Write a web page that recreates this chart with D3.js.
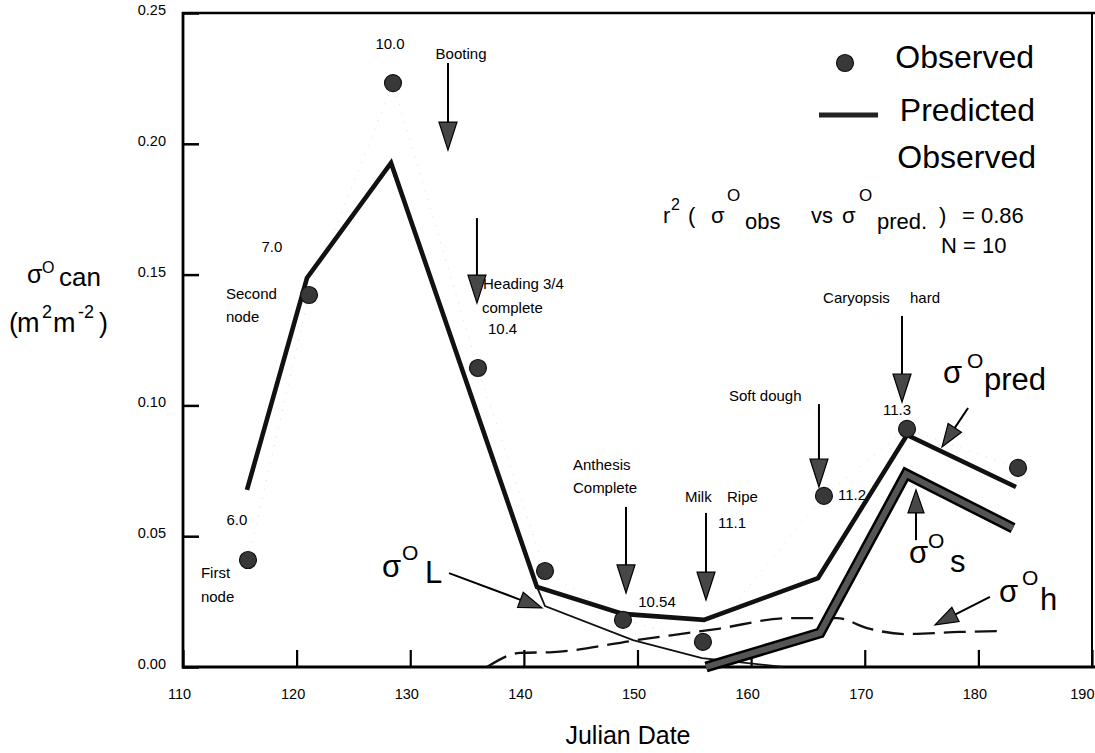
<!DOCTYPE html>
<html>
<head>
<meta charset="utf-8">
<script src="https://cdn.jsdelivr.net/npm/d3@7"></script>
<style>
  html, body { margin: 0; padding: 0; background: #fff; }
  svg { display: block; }
</style>
</head>
<body>
<svg id="chart" width="1095" height="753"></svg>
<script>
// ---- Observed canopy backscatter (Julian date, sigma0 can) ----
const obsDate  = [115.72, 121.09, 128.48, 135.96, 141.86, 148.72, 155.76, 166.41, 173.72, 183.49];
const obsSigma = [0.0409, 0.1422, 0.2232, 0.1143, 0.0367, 0.0180, 0.0096, 0.0654, 0.0910, 0.0761];

// ---- Predicted total canopy backscatter ----
const predDate  = [115.63, 120.91, 128.31, 141.15, 148.72, 155.85, 165.89, 173.72, 183.31];
const predSigma = [0.0677, 0.1487, 0.1927, 0.0306, 0.0203, 0.0180, 0.0340, 0.0887, 0.0688];

// ---- Leaf contribution (sigma0 L) ----
const leafDate  = [141.15, 141.86, 149.60, 155.68, 162.81];
const leafSigma = [0.0306, 0.0233, 0.0103, 0.0034, 0.0];

// ---- Stem contribution (sigma0 s) ----
const stemDate  = [156.03, 166.06, 173.63, 183.05];
const stemSigma = [0.0, 0.0130, 0.0738, 0.0531];

// ---- Head contribution (sigma0 h) ----
const headDate  = [136.75, 139.66, 142.56, 149.96, 156.91, 163.42, 167.56, 170.20, 173.54, 178.38, 182.34];
const headSigma = [0.0, 0.0054, 0.0057, 0.0103, 0.0145, 0.0187, 0.0187, 0.0149, 0.0126, 0.0134, 0.0138];

// ---- Axis ticks ----
const xTicks = [110, 120, 130, 140, 150, 160, 170, 180, 190];
const yTicks = [0.00, 0.05, 0.10, 0.15, 0.20, 0.25];

// ---- Growth-stage arrows: date, value at tail, value at tip ----
const stageArrows = [
  [133.32, 0.2309, 0.1976],   // Booting
  [135.87, 0.1716, 0.1391],   // Heading 3/4 complete
  [148.99, 0.0612, 0.0283],   // Anthesis complete
  [156.03, 0.0589, 0.0256],   // Milk ripe
  [165.97, 0.1005, 0.0688],   // Soft dough
  [173.28, 0.1342, 0.1013]    // Caryopsis hard
];

// ---- Arrows pointing at the component curves: tail (date, value) -> tip ----
const curveArrows = [
  [133.41, 0.0359, 141.59, 0.0226],   // sigma0 L
  [179.09, 0.0990, 176.80, 0.0841],   // sigma0 pred
  [174.51, 0.0485, 174.51, 0.0677],   // sigma0 s
  [181.02, 0.0268, 176.18, 0.0161]    // sigma0 h
];

// ---- Growth-stage text (Zadoks stage numbers and names) ----
const stageLabels = [
  ['10.0', 128.22, 0.2362, 'middle'],
  ['Booting', 134.47, 0.2324, 'middle'],
  ['7.0', 117.83, 0.1586, 'middle'],
  ['Second', 113.78, 0.1407, 'start'],
  ['node', 113.78, 0.1319, 'start'],
  ['Heading 3/4', 136.40, 0.1445, 'start'],
  ['complete', 136.31, 0.1353, 'start'],
  ['10.4', 136.84, 0.1273, 'start'],
  ['6.0', 114.75, 0.0543, 'middle'],
  ['First', 111.58, 0.0340, 'start'],
  ['node', 111.58, 0.0248, 'start'],
  ['Anthesis', 144.32, 0.0753, 'start'],
  ['Complete', 144.32, 0.0665, 'start'],
  ['10.54', 151.72, 0.0229, 'middle'],
  ['Milk', 154.18, 0.0631, 'start'],
  ['Ripe', 157.88, 0.0631, 'start'],
  ['11.1', 157.08, 0.0531, 'start'],
  ['Soft dough', 158.05, 0.1017, 'start'],
  ['11.2', 167.65, 0.0638, 'start'],
  ['Caryopsis', 166.33, 0.1391, 'start'],
  ['hard', 173.98, 0.1391, 'start'],
  ['11.3', 172.84, 0.0963, 'middle']
];

const FONT = '"Liberation Sans", Arial, Helvetica, sans-serif';
const W = 1095, H = 753;

const x = d3.scaleLinear().domain([110, 190]).range([183, 1092]);
const y = d3.scaleLinear().domain([0, 0.25]).range([667, 13]);

const svg = d3.select('#chart').attr('font-family', FONT);
svg.append('rect').attr('width', W).attr('height', H).attr('fill', '#fff');

const zip = (a, b) => a.map((v, i) => [v, b[i]]);
const line = d3.line().x(d => x(d[0])).y(d => y(d[1]));
const smooth = d3.line().x(d => x(d[0])).y(d => y(d[1])).curve(d3.curveMonotoneX);

// ---- Axes ----
const gy = svg.append('g')
  .attr('transform', `translate(${x(110)},0)`)
  .call(d3.axisLeft(y).tickValues(yTicks).tickFormat(d3.format('.2f')).tickSize(-16).tickPadding(17));
gy.attr('font-family', FONT).attr('font-size', 14.5);
gy.select('.domain').remove();
gy.selectAll('.tick line').attr('stroke', '#000').attr('stroke-width', 2.5);
gy.selectAll('.tick text').attr('fill', '#000').attr('dy', '0.1em');

const gx = svg.append('g')
  .attr('transform', `translate(0,${y(0)})`)
  .call(d3.axisBottom(x).tickValues(xTicks).tickFormat(d3.format('d')).tickSize(-17).tickPadding(22));
gx.attr('font-family', FONT).attr('font-size', 14.5);
gx.select('.domain').remove();
gx.selectAll('.tick line').attr('stroke', '#000').attr('stroke-width', 2.2);
gx.selectAll('.tick text').attr('fill', '#000').attr('dx', -4);
// keep the last label inside the page
gx.selectAll('.tick text').filter(d => d === 190).attr('text-anchor', 'end').attr('dx', 2);

// Frame
const frame = svg.append('g').attr('stroke', '#000').attr('fill', 'none');
frame.append('line').attr('x1', x(110)).attr('x2', x(110)).attr('y1', y(0.25) - 1).attr('y2', y(0) + 1.5).attr('stroke-width', 2.8);
frame.append('line').attr('x1', x(110) - 1).attr('x2', W).attr('y1', y(0)).attr('y2', y(0)).attr('stroke-width', 3);
frame.append('line').attr('x1', x(110) - 1).attr('x2', W).attr('y1', y(0.25)).attr('y2', y(0.25)).attr('stroke-width', 2.5);
frame.append('line').attr('x1', x(190)).attr('x2', x(190)).attr('y1', y(0.25)).attr('y2', y(0)).attr('stroke-width', 2);

// ---- Series ----
const plot = svg.append('g').attr('fill', 'none');

// faint dotted trace through the observations
plot.append('path').attr('d', line(zip(obsDate, obsSigma)))
  .attr('stroke', '#dcdcdc').attr('stroke-width', 1).attr('stroke-dasharray', '1 8');

// head component (dashed)
plot.append('path').attr('d', smooth(zip(headDate, headSigma)))
  .attr('stroke', '#111').attr('stroke-width', 2.3).attr('stroke-dasharray', '22 9');

// leaf component (thin)
plot.append('path').attr('d', line(zip(leafDate, leafSigma)))
  .attr('stroke', '#111').attr('stroke-width', 1.8).attr('stroke-linejoin', 'miter');

// stem component (broad band)
const stemPath = line(zip(stemDate, stemSigma));
plot.append('path').attr('d', stemPath)
  .attr('stroke', '#000').attr('stroke-width', 11).attr('stroke-linejoin', 'miter');
plot.append('path').attr('d', stemPath)
  .attr('stroke', '#555').attr('stroke-width', 6).attr('stroke-linejoin', 'miter');

// predicted total
plot.append('path').attr('d', line(zip(predDate, predSigma)))
  .attr('stroke', '#111').attr('stroke-width', 4.6).attr('stroke-linejoin', 'miter');

// ---- Arrows ----
const arrows = svg.append('g');
function drawArrow(x1, y1, x2, y2, head, width) {
  const dx = x2 - x1, dy = y2 - y1, L = Math.hypot(dx, dy);
  const ux = dx / L, uy = dy / L;
  const bx = x2 - ux * head, by = y2 - uy * head, hw = width / 2;
  arrows.append('line').attr('x1', x1).attr('y1', y1).attr('x2', bx).attr('y2', by)
    .attr('stroke', '#000').attr('stroke-width', 2);
  arrows.append('path')
    .attr('d', `M${x2},${y2}L${bx - uy * hw},${by + ux * hw}L${bx + uy * hw},${by - ux * hw}Z`)
    .attr('fill', '#474747').attr('stroke', '#000').attr('stroke-width', 1.2).attr('stroke-linejoin', 'miter');
}
stageArrows.forEach(([d, v0, v1]) => drawArrow(x(d), y(v0), x(d), y(v1), 28, 18));
curveArrows.forEach(([d0, v0, d1, v1]) => drawArrow(x(d0), y(v0), x(d1), y(v1), 23, 16));

// ---- Observed points ----
svg.append('g').selectAll('circle')
  .data(zip(obsDate, obsSigma))
  .join('circle')
  .attr('cx', d => x(d[0])).attr('cy', d => y(d[1])).attr('r', 8.5)
  .attr('fill', '#383838').attr('stroke', '#111').attr('stroke-width', 1.2);

// ---- Stage labels ----
svg.append('g').attr('font-size', 15).attr('fill', '#000')
  .selectAll('text').data(stageLabels).join('text')
  .attr('x', d => x(d[1])).attr('y', d => y(d[2]))
  .attr('text-anchor', d => d[3])
  .text(d => d[0]);

// ---- Component labels: sigma, superscript O, subscript ----
function sigmaLabel(px, py, sub, oDx, oDy, sDx, sDy) {
  const g = svg.append('g').attr('fill', '#000');
  g.append('text').attr('x', px).attr('y', py).attr('font-size', 31).text('σ');
  g.append('text').attr('x', px + oDx).attr('y', py + oDy).attr('font-size', 21).text('O');
  g.append('text').attr('x', px + sDx).attr('y', py + sDy).attr('font-size', 31).text(sub);
}
sigmaLabel(382, 577, 'L', 20, -17, 43, 6);
sigmaLabel(943, 383, 'pred', 24, -15, 41, 7);
sigmaLabel(909, 563, 's', 19, -15, 41, 9);
sigmaLabel(999, 602, 'h', 23, -17, 41, 8);

// ---- Legend ----
const leg = svg.append('g').attr('fill', '#000').attr('font-size', 32);
leg.append('circle').attr('cx', 845).attr('cy', 63).attr('r', 8.5)
  .attr('fill', '#383838').attr('stroke', '#111').attr('stroke-width', 1.2);
leg.append('text').attr('x', 1034).attr('y', 68).attr('text-anchor', 'end').text('Observed');
leg.append('line').attr('x1', 819).attr('x2', 878).attr('y1', 115).attr('y2', 115)
  .attr('stroke', '#222').attr('stroke-width', 5);
leg.append('text').attr('x', 1035).attr('y', 121).attr('text-anchor', 'end').text('Predicted');
leg.append('text').attr('x', 1036).attr('y', 168).attr('text-anchor', 'end').text('Observed');

// ---- Fit statistics ----
const stat = svg.append('g').attr('fill', '#000');
[
  ['r', 663, 223, 22], ['2', 671, 210, 16], ['(', 688, 223, 22],
  ['σ', 711, 223, 22], ['O', 727, 201, 17], ['obs', 745, 229, 22],
  ['vs', 811, 223, 22],
  ['σ', 842, 223, 22], ['O', 859, 201, 17], ['pred.', 877, 229, 22],
  [')', 939, 223, 22], ['= 0.86', 962, 223, 22],
  ['N = 10', 941, 253, 22]
].forEach(([t, px, py, fs]) => stat.append('text').attr('x', px).attr('y', py).attr('font-size', fs).text(t));

// ---- Axis titles ----
const yt = svg.append('g').attr('fill', '#000');
yt.append('text').attr('x', 27).attr('y', 283).attr('font-size', 25).text('σ');
yt.append('text').attr('x', 42).attr('y', 273).attr('font-size', 16).text('O');
yt.append('text').attr('x', 59).attr('y', 286).attr('font-size', 26).text('can');
[
  ['(', 9, 332, 27], ['m', 17, 332, 27], ['2', 42, 318, 18],
  ['m', 53, 332, 27], ['-2', 78, 318, 18], [')', 99, 332, 27]
].forEach(([t, px, py, fs]) => yt.append('text').attr('x', px).attr('y', py).attr('font-size', fs).text(t));

svg.append('text').attr('x', 628).attr('y', 744).attr('text-anchor', 'middle')
  .attr('font-size', 25).attr('fill', '#000').text('Julian Date');
</script>
</body>
</html>
